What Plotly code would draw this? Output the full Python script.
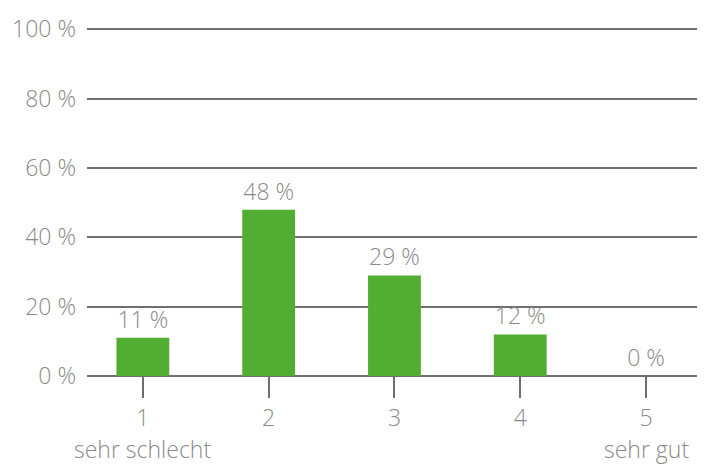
import plotly.graph_objects as go

# Rating distribution (scale 1 = sehr schlecht ... 5 = sehr gut)
categories = ["1", "2", "3", "4", "5"]
shares = [11, 48, 29, 12, 0]
y_ticks = [0, 20, 40, 60, 80, 100]
y_tick_labels = [f"{v} %" for v in y_ticks]
end_labels = {"1": "sehr schlecht", "5": "sehr gut"}

GREEN = "#52ae32"
GREY_TEXT = "#8a8a8a"
GREY_LINE = "#6f6f6f"
FONT = "Open Sans"
TXT = dict(family=FONT, size=23, color=GREY_TEXT, weight=300)

fig = go.Figure(
    go.Bar(
        x=list(range(len(categories))),
        y=shares,
        width=0.42,
        marker=dict(color=GREEN, line=dict(width=0)),
        text=[f"{v} %" for v in shares],
        textposition="outside",
        textfont=TXT,
        cliponaxis=False,
        hoverinfo="skip",
    )
)

for i, c in enumerate(categories):
    if c in end_labels:
        fig.add_annotation(
            x=i, y=0, xref="x", yref="y",
            text=end_labels[c], showarrow=False,
            yshift=-73, font=TXT,
        )

fig.update_layout(
    width=710, height=466,
    margin=dict(l=86, r=13, t=22, b=90),
    paper_bgcolor="white", plot_bgcolor="white",
    showlegend=False,
    font=TXT,
    xaxis=dict(
        range=[-0.444, 4.405],
        tickmode="array",
        tickvals=list(range(len(categories))),
        ticktext=categories,
        ticks="outside", ticklen=21, tickwidth=2, tickcolor=GREY_LINE,
        showgrid=False, zeroline=False, showline=False,
        tickfont=TXT,
    ),
    yaxis=dict(
        range=[0, 100.4],
        tickmode="array",
        tickvals=y_ticks,
        ticktext=y_tick_labels,
        showgrid=True, gridcolor=GREY_LINE, gridwidth=1.5,
        zeroline=True, zerolinecolor=GREY_LINE, zerolinewidth=1.5,
        showline=False, ticks="", ticklabelstandoff=10,
        tickfont=TXT,
    ),
)

fig.write_html("out.html")
